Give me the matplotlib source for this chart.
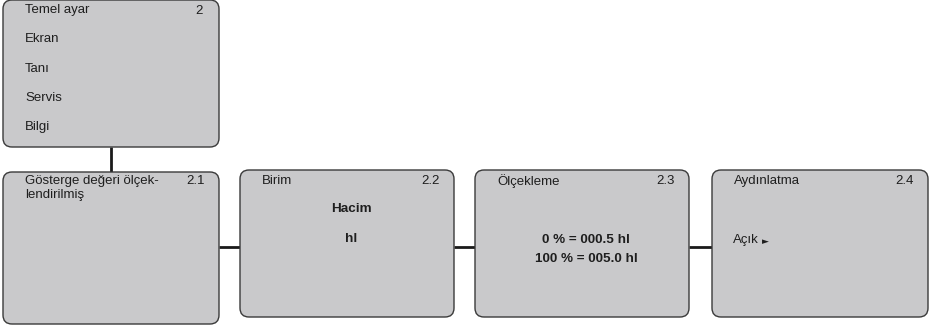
import matplotlib
matplotlib.use("Agg")
import matplotlib.pyplot as plt
from matplotlib.patches import FancyBboxPatch

plt.rcParams['font.family'] = ['Liberation Sans', 'DejaVu Sans']

# ---- content ----
top_title = "Temel ayar"
top_number = "2"
top_items = ["Ekran", "Tanı", "Servis", "Bilgi"]

sub_titles = [["Gösterge değeri ölçek-", "lendirilmiş"], ["Birim"], ["Ölçekleme"], ["Aydınlatma"]]
sub_numbers = ["2.1", "2.2", "2.3", "2.4"]
sub_bold_lines = [[], ["Hacim", "hl"], ["0 % = 000.5 hl", "100 % = 005.0 hl"], []]
sub_plain_lines = [[], [], [], ["Açık"]]

# ---- layout (pixel coords) ----
W, H = 930, 326
fig = plt.figure(figsize=(W / 100, H / 100), dpi=100)
ax = fig.add_axes([0, 0, 1, 1])
ax.set_xlim(0, W)
ax.set_ylim(H, 0)
ax.axis('off')

FILL = '#c9c9cb'
EDGE = '#3a3a3a'
TXT = '#1e1e1e'
FS = 9.5
FSB = 9.7


def box(x0, y0, x1, y1):
    p = FancyBboxPatch((x0 + 8, y0 + 8), (x1 - x0) - 16, (y1 - y0) - 16,
                       boxstyle="round,pad=8,rounding_size=9",
                       fc=FILL, ec=EDGE, lw=1.0, zorder=2)
    ax.add_patch(p)


# top box
box(3, 0, 219, 147)
ax.text(25, 10.5, top_title, fontsize=FS, color=TXT, va='center', ha='left', zorder=3)
ax.text(203, 10.5, top_number, fontsize=FS, color=TXT, va='center', ha='right', zorder=3)
for i, item in enumerate(top_items):
    ax.text(25, 39.5 + i * 29.3, item, fontsize=FS, color=TXT, va='center', ha='left', zorder=3)

# vertical connector
ax.plot([111, 111], [147, 172], color='#1a1a1a', lw=2.0, zorder=1, solid_capstyle='butt')

# sub boxes
sub_boxes = [(3, 172, 219, 324), (240, 170, 454, 317), (475, 170, 689, 317), (712, 170, 928, 317)]
for i, (x0, y0, x1, y1) in enumerate(sub_boxes):
    box(x0, y0, x1, y1)
    for k, line in enumerate(sub_titles[i]):
        ax.text(x0 + 22, 181 + k * 14, line, fontsize=FS, color=TXT, va='center', ha='left', zorder=3)
    ax.text(x1 - 14, 181, sub_numbers[i], fontsize=FS, color=TXT, va='center', ha='right', zorder=3)
    cx = (x0 + x1) / 2 + 4
    bl = sub_bold_lines[i]
    if i == 1:
        ys = [209, 239]
    else:
        ys = [240, 269 - 10]
    for j, t in enumerate(bl):
        ax.text(cx, ys[j], t, fontsize=FSB, color=TXT, fontweight='bold', va='center', ha='center', zorder=3)
    for j, t in enumerate(sub_plain_lines[i]):
        ax.text(x0 + 21, 240, t, fontsize=FS, color=TXT, va='center', ha='left', zorder=3)
        ax.text(x0 + 50, 242, "►", fontsize=6.5, color=TXT, va='center', ha='left',
                family=['DejaVu Sans'], zorder=3)

# horizontal connectors
for (a, b) in zip(sub_boxes[:-1], sub_boxes[1:]):
    ax.plot([a[2], b[0]], [247, 247], color='#1a1a1a', lw=2.0, zorder=1, solid_capstyle='butt')

fig.savefig('out.png', dpi=100, facecolor='white')
